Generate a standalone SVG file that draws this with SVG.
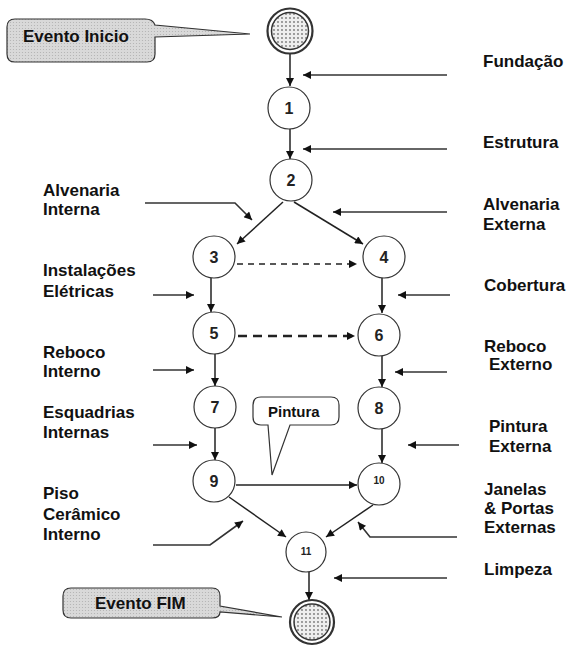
<svg xmlns="http://www.w3.org/2000/svg" width="568" height="648" viewBox="0 0 568 648">
<style>
.lbl{font-family:"Liberation Sans",Arial,sans-serif;font-weight:bold;font-size:17px;fill:#111}
.num{font-family:"Liberation Sans",Arial,sans-serif;font-weight:bold;font-size:16px;fill:#222;text-anchor:middle}
.sm{font-size:10px}
.node{fill:#fff;stroke:#333;stroke-width:1.2}
.edge{fill:none;stroke:#222;stroke-width:1.5;marker-end:url(#ah)}
.inp{fill:none;stroke:#333;stroke-width:1.6;marker-end:url(#ah)}
.call{stroke:#333;stroke-width:1.2}
</style>
<defs>
<marker id="ah" viewBox="0 0 10 10" refX="10" refY="5" markerWidth="9" markerHeight="8" markerUnits="userSpaceOnUse" orient="auto">
<path d="M0,0 L10,5 L0,10 z" fill="#111"/>
</marker>
<pattern id="dots" width="4" height="4" patternUnits="userSpaceOnUse">
<rect width="4" height="4" fill="#eeeeee"/>
<circle cx="2" cy="2" r="0.9" fill="#777"/>
</pattern>
<pattern id="gdots" width="3" height="3" patternUnits="userSpaceOnUse">
<rect width="3" height="3" fill="#d9d9d9"/>
<circle cx="1.5" cy="1.5" r="0.6" fill="#b0b0b0"/>
</pattern>
</defs>
<rect width="568" height="648" fill="#fff"/>

<g id="connectors">
<line class="edge" x1="290" y1="54" x2="290" y2="86"/>
<line class="edge" x1="290" y1="129" x2="290" y2="159"/>
<line class="edge" x1="283" y1="202" x2="237" y2="244"/>
<line class="edge" x1="294" y1="202" x2="363" y2="244"/>
<line class="edge" x1="237" y1="264" x2="357" y2="264" stroke-dasharray="6,5"/>
<line class="edge" x1="238" y1="336" x2="355" y2="336" style="stroke-width:2.6" stroke-dasharray="9,6"/>
<line class="edge" x1="211" y1="278" x2="211" y2="312"/>
<line class="edge" x1="382" y1="278" x2="382" y2="313"/>
<line class="edge" x1="215" y1="354" x2="215" y2="386"/>
<line class="edge" x1="382" y1="356" x2="382" y2="387"/>
<line class="edge" x1="215" y1="428" x2="215" y2="460"/>
<line class="edge" x1="382" y1="429" x2="382" y2="463"/>
<line class="edge" x1="236" y1="485" x2="357" y2="485"/>
<line class="edge" x1="229" y1="497" x2="286" y2="537"/>
<line class="edge" x1="373" y1="505" x2="326" y2="537"/>
<line class="edge" x1="309" y1="572" x2="309" y2="600"/>
<!-- activity input arrows -->
<line class="inp" x1="447" y1="75" x2="303" y2="75"/>
<line class="inp" x1="447" y1="149" x2="303" y2="149"/>
<line class="inp" x1="447" y1="212" x2="333" y2="212"/>
<line class="inp" x1="450" y1="295" x2="398" y2="295"/>
<line class="inp" x1="447" y1="372" x2="395" y2="372"/>
<line class="inp" x1="459" y1="445" x2="408" y2="445"/>
<polyline class="inp" points="457,537 370,537 358,522"/>
<line class="inp" x1="447" y1="578" x2="334" y2="578"/>
<polyline class="inp" points="145,203 235,203 252,220"/>
<line class="inp" x1="153" y1="295" x2="194" y2="295"/>
<line class="inp" x1="153" y1="370" x2="194" y2="370"/>
<line class="inp" x1="153" y1="445" x2="197" y2="445"/>
<polyline class="inp" points="153,545 210,545 243,521"/>
</g>

<g id="start">
<circle cx="290" cy="31" r="22.5" fill="#fff" stroke="#333" stroke-width="2.2"/>
<circle cx="290" cy="31" r="18.5" fill="url(#dots)" stroke="#333" stroke-width="1.5"/>
</g>
<g id="n1"><circle class="node" cx="289" cy="108" r="21"/><text class="num" x="289" y="114">1</text></g>
<g id="n2"><circle class="node" cx="291" cy="180" r="21"/><text class="num" x="291" y="186">2</text></g>
<g id="n3"><circle class="node" cx="214" cy="257" r="21"/><text class="num" x="214" y="263">3</text></g>
<g id="n4"><circle class="node" cx="384" cy="257" r="21"/><text class="num" x="384" y="263">4</text></g>
<g id="n5"><circle class="node" cx="214" cy="333" r="21"/><text class="num" x="214" y="339">5</text></g>
<g id="n6"><circle class="node" cx="379" cy="335" r="21"/><text class="num" x="379" y="341">6</text></g>
<g id="n7"><circle class="node" cx="215" cy="407" r="21"/><text class="num" x="215" y="413">7</text></g>
<g id="n8"><circle class="node" cx="379" cy="408" r="21"/><text class="num" x="379" y="414">8</text></g>
<g id="n9"><circle class="node" cx="214" cy="481" r="21"/><text class="num" x="214" y="487">9</text></g>
<g id="n10"><circle class="node" cx="379" cy="484" r="21"/><text class="num sm" x="379" y="484">10</text></g>
<g id="n11"><circle class="node" cx="306" cy="552" r="20"/><text class="num sm" x="306" y="555">11</text></g>
<g id="end">
<circle cx="312" cy="622" r="22" fill="#fff" stroke="#333" stroke-width="2.2"/>
<circle cx="312" cy="622" r="18" fill="url(#dots)" stroke="#333" stroke-width="1.5"/>
</g>

<g id="callout-inicio">
<path class="call" fill="url(#gdots)" d="M15,19 H145 Q153,19 155,25 L250,34 L155,37 V54 Q155,62 147,62 H15 Q7,62 7,54 V27 Q7,19 15,19 Z"/>
<text class="lbl" x="23" y="42">Evento Inicio</text>
</g>
<g id="callout-fim">
<path class="call" fill="url(#gdots)" d="M71,588 H212 Q220,588 220,596 V606 L282,617 L220,612 V612 Q220,618 212,618 H71 Q63,618 63,610 V596 Q63,588 71,588 Z"/>
<text class="lbl" x="95" y="609">Evento FIM</text>
</g>
<g id="callout-pintura">
<path class="call" fill="#fff" d="M261,397 H331 Q339,397 339,405 V417 Q339,425 331,425 H290 L272,475 L268,425 H261 Q253,425 253,417 V405 Q253,397 261,397 Z"/>
<text class="lbl" x="268" y="417" style="font-size:15px">Pintura</text>
</g>

<g id="labels-left">
<text class="lbl" x="43" y="196">Alvenaria</text>
<text class="lbl" x="43" y="215">Interna</text>
<text class="lbl" x="43" y="276">Instalações</text>
<text class="lbl" x="43" y="297">Elétricas</text>
<text class="lbl" x="43" y="358">Reboco</text>
<text class="lbl" x="43" y="377">Interno</text>
<text class="lbl" x="43" y="418">Esquadrias</text>
<text class="lbl" x="43" y="438">Internas</text>
<text class="lbl" x="43" y="499">Piso</text>
<text class="lbl" x="43" y="520">Cerâmico</text>
<text class="lbl" x="43" y="540">Interno</text>
</g>
<g id="labels-right">
<text class="lbl" x="483" y="67">Fundação</text>
<text class="lbl" x="483" y="148">Estrutura</text>
<text class="lbl" x="483" y="210">Alvenaria</text>
<text class="lbl" x="483" y="230">Externa</text>
<text class="lbl" x="484" y="291">Cobertura</text>
<text class="lbl" x="484" y="352">Reboco</text>
<text class="lbl" x="489" y="370">Externo</text>
<text class="lbl" x="489" y="432">Pintura</text>
<text class="lbl" x="489" y="452">Externa</text>
<text class="lbl" x="484" y="495">Janelas</text>
<text class="lbl" x="484" y="514">&amp; Portas</text>
<text class="lbl" x="484" y="533">Externas</text>
<text class="lbl" x="484" y="575">Limpeza</text>
</g>
</svg>
